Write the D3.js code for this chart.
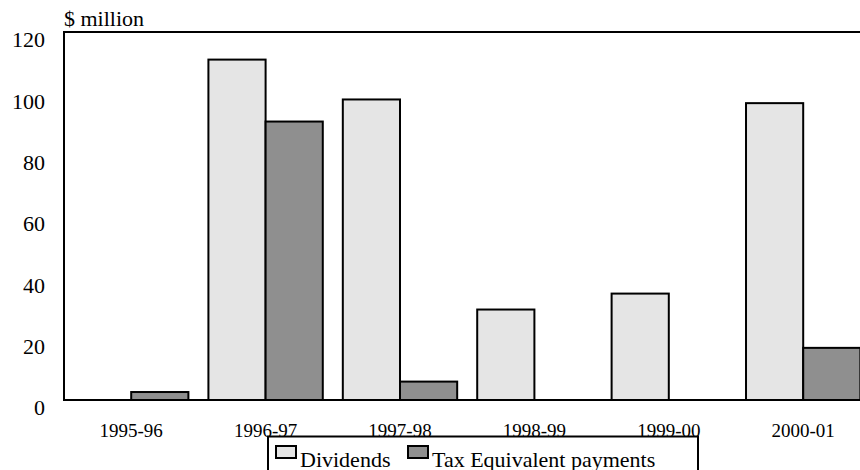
<!DOCTYPE html>
<html>
<head>
<meta charset="utf-8">
<script src="https://cdn.jsdelivr.net/npm/d3@7"></script>
<style>
  html, body { margin: 0; padding: 0; background: #fff; }
  svg { display: block; }
  text { font-family: "Liberation Serif", "Times New Roman", serif; fill: #000; }
</style>
</head>
<body>
<svg id="chart" width="860" height="470"></svg>
<script>
const categories = ["1995-96", "1996-97", "1997-98", "1998-99", "1999-00", "2000-01"];
const seriesNames = ["Dividends", "Tax Equivalent payments"];
const dividends = [0, 111, 98, 29.5, 34.7, 96.8];
const taxEquivalent = [2.6, 90.8, 6, 0, 0, 17];
const yTicks = [0, 20, 40, 60, 80, 100, 120];
const unitLabel = "$ million";
const colors = ["#e5e5e5", "#8f8f8f"];

const svg = d3.select("#chart");
const plot = { left: 64, top: 32, right: 870.4, bottom: 400 };

const x0 = d3.scaleBand().domain(categories).range([plot.left, plot.right])
  .paddingInner(0.149).paddingOuter(0.0745);
const x1 = d3.scaleBand().domain(seriesNames).range([0, x0.bandwidth()]);
const y = d3.scaleLinear().domain([0, 120]).range([plot.bottom, plot.top]);

const rows = categories.map((c, i) => ({ cat: c, vals: [dividends[i], taxEquivalent[i]] }));

// frame
svg.append("rect")
  .attr("x", plot.left).attr("y", plot.top)
  .attr("width", plot.right - plot.left).attr("height", plot.bottom - plot.top)
  .attr("fill", "none").attr("stroke", "#000").attr("stroke-width", 2);

// bars
const g = svg.append("g");
g.selectAll("g.grp").data(rows).join("g").attr("class", "grp")
  .attr("transform", d => `translate(${x0(d.cat)},0)`)
  .selectAll("rect").data(d => d.vals.map((v, k) => ({ key: seriesNames[k], v, k })))
  .join("rect")
  .attr("x", d => x1(d.key))
  .attr("y", d => y(d.v))
  .attr("width", x1.bandwidth())
  .attr("height", d => y(0) - y(d.v))
  .attr("fill", d => colors[d.k])
  .attr("stroke", d => d.v === 0 ? "#999" : "#000")
  .attr("stroke-width", 2);

// baseline
svg.append("line")
  .attr("x1", plot.left).attr("x2", plot.right)
  .attr("y1", y(0)).attr("y2", y(0))
  .attr("stroke", "#000").attr("stroke-width", 2);

// y axis labels
const yAxis = svg.append("g").attr("transform", `translate(${plot.left},0)`)
  .call(d3.axisLeft(y).tickValues(yTicks).tickSize(0).tickPadding(19));
yAxis.select(".domain").remove();
yAxis.selectAll("text").attr("font-size", 22).attr("dy", "0.67em")
  .style("font-family", '"Liberation Serif", serif');

// x axis labels
const xAxis = svg.append("g").attr("transform", `translate(0,${plot.bottom})`)
  .call(d3.axisBottom(x0).tickSize(0).tickPadding(0));
xAxis.select(".domain").remove();
xAxis.selectAll("text").attr("font-size", 19).attr("y", 36.5).attr("dy", null)
  .style("font-family", '"Liberation Serif", serif');

// unit label
svg.append("text").attr("x", 64).attr("y", 26).attr("font-size", 22)
  .style("font-family", '"Liberation Serif", serif').text(unitLabel);

// legend
const lg = svg.append("g");
lg.append("rect").attr("x", 268).attr("y", 436.5).attr("width", 430).attr("height", 60)
  .attr("fill", "#fff").attr("stroke", "#000").attr("stroke-width", 2);
const legendX = [276, 408];
seriesNames.forEach((s, k) => {
  lg.append("rect").attr("x", legendX[k]).attr("y", 446).attr("width", 20).attr("height", 12)
    .attr("fill", colors[k]).attr("stroke", "#000").attr("stroke-width", 2);
  lg.append("text").attr("x", legendX[k] + 24).attr("y", 466.7).attr("font-size", 22)
    .style("font-family", '"Liberation Serif", serif').text(s);
});
</script>
</body>
</html>
